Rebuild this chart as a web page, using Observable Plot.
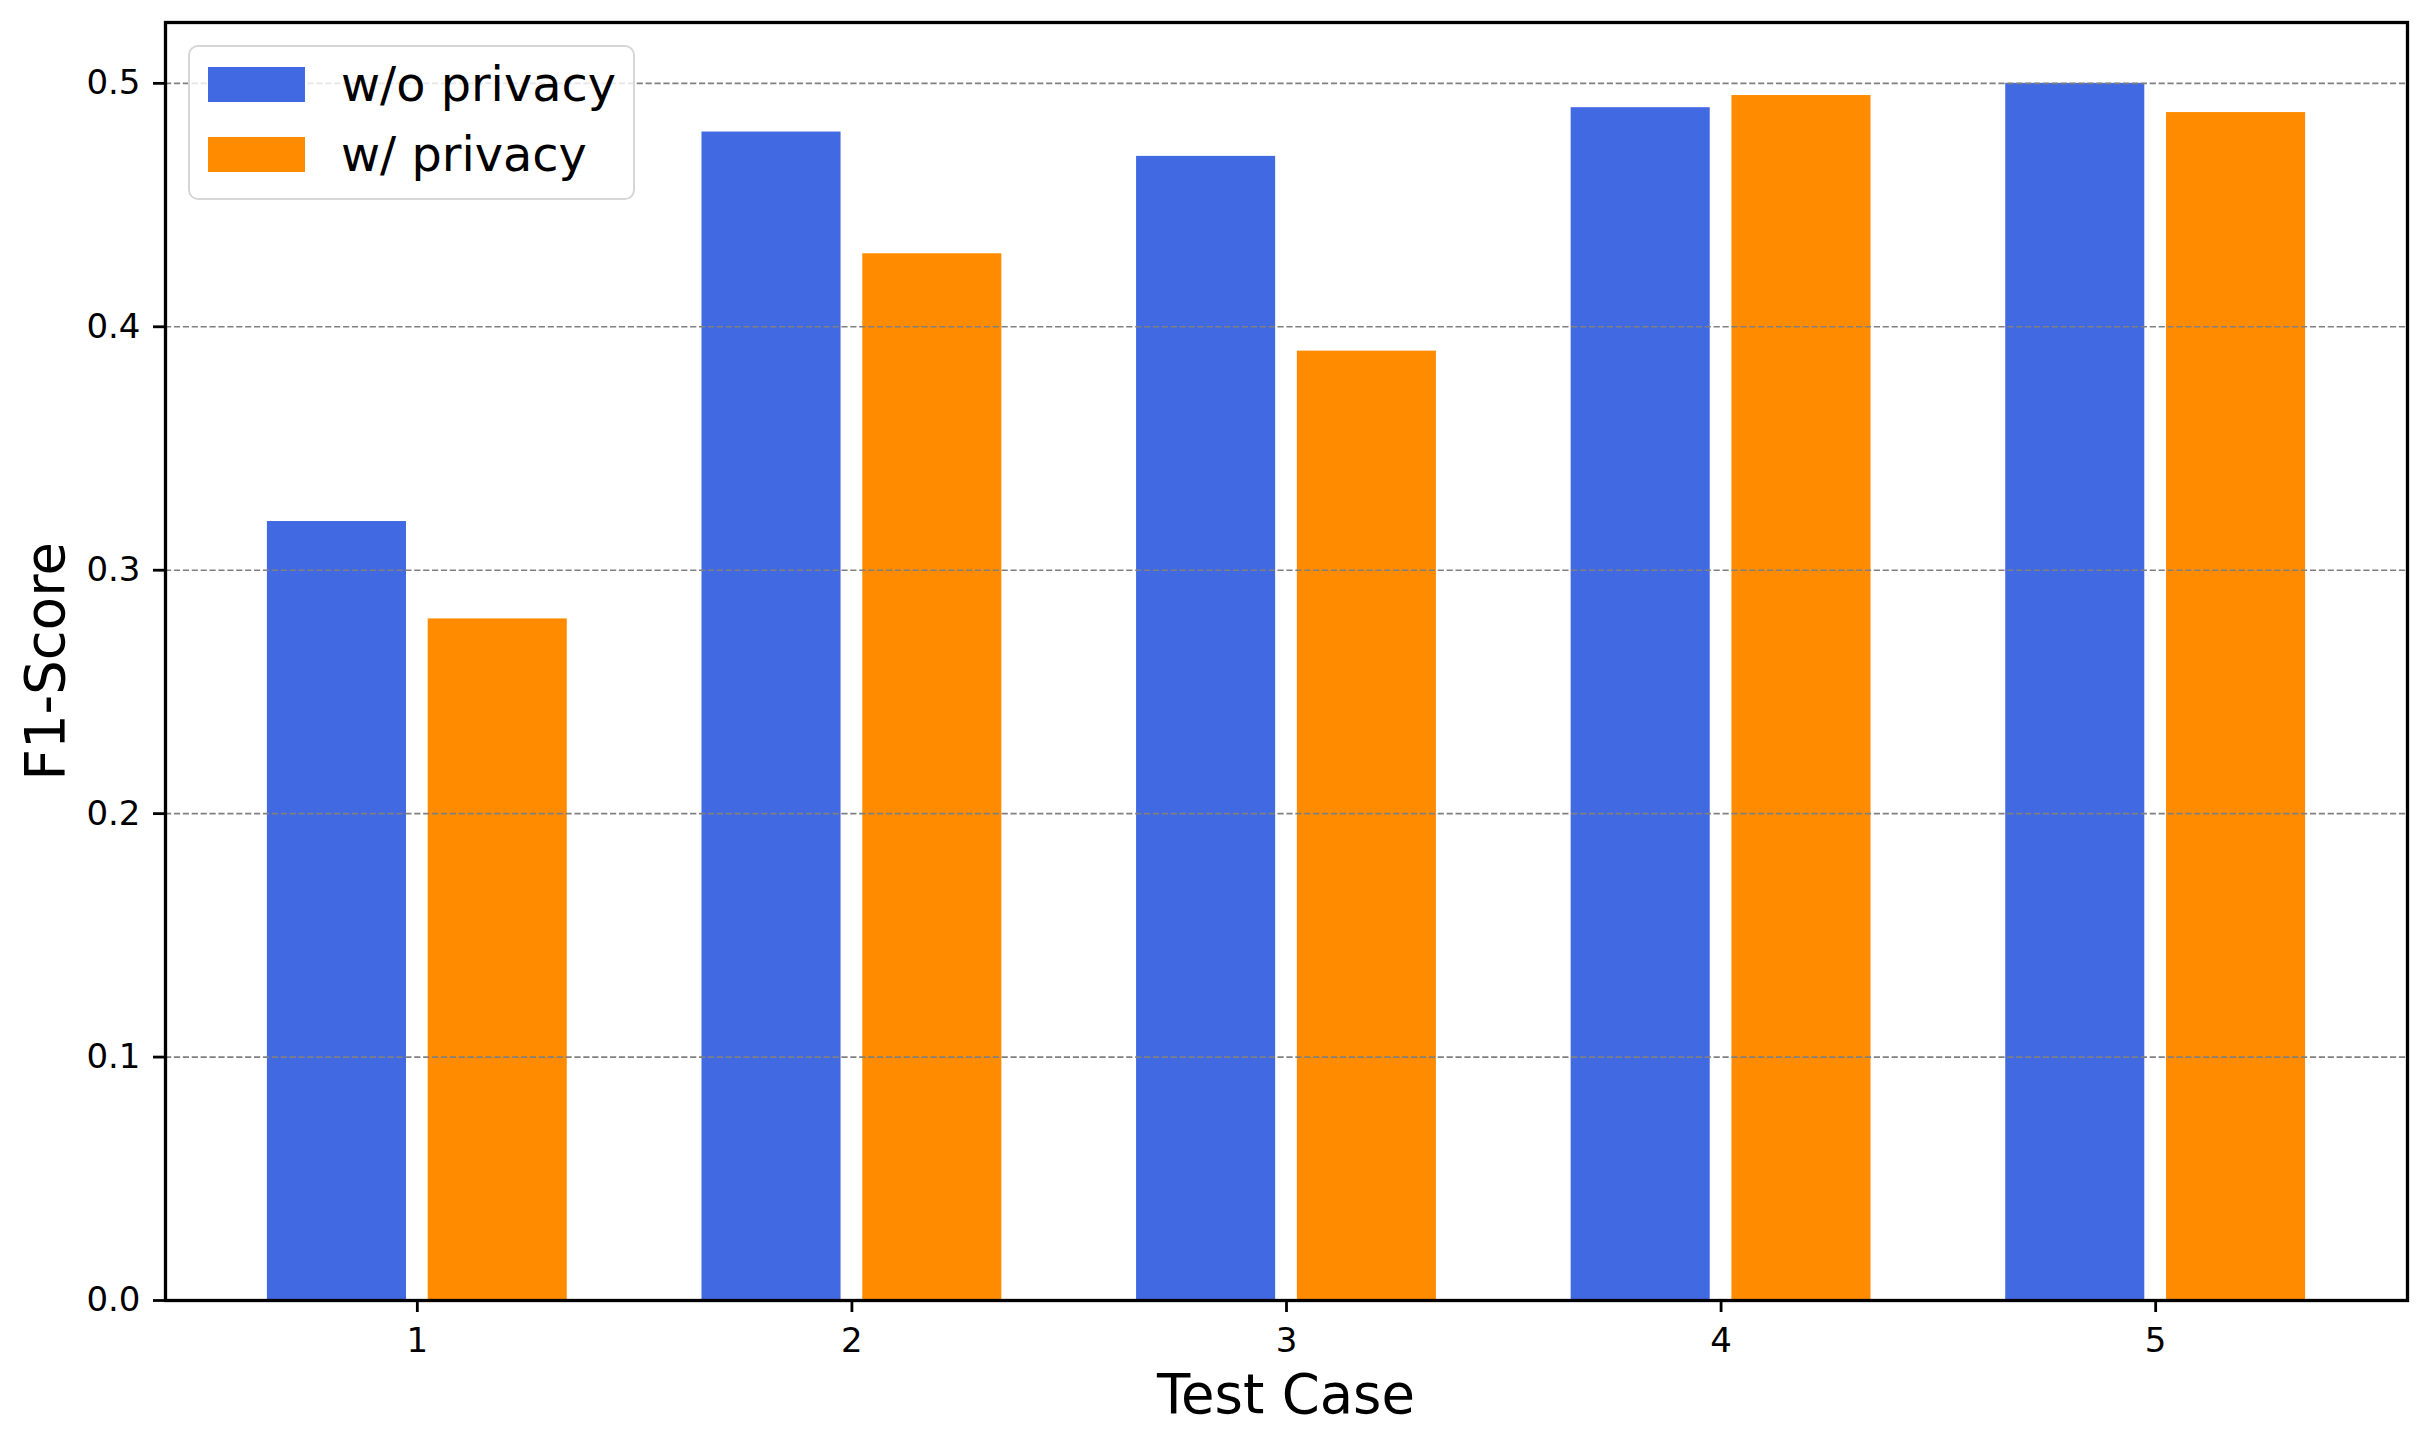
<!DOCTYPE html>
<html>
<head>
<meta charset="utf-8">
<script src="https://cdn.jsdelivr.net/npm/d3@7"></script>
<script src="https://cdn.jsdelivr.net/npm/@observablehq/plot@0.6"></script>
<style>
  html, body { margin: 0; padding: 0; background: white; }
  #wrap { position: relative; width: 2427px; height: 1441px; font-family: "DejaVu Sans", sans-serif; color: black; }
  #wrap svg { position: absolute; left: 0; top: 0; }
  .lbl { position: absolute; white-space: nowrap; font-family: "DejaVu Sans", sans-serif; color: black; }
  #legendBox { position: absolute; left: 188px; top: 45px; width: 447px; height: 155px; box-sizing: border-box;
    border: 2.7px solid #d6d6d6; border-radius: 10px; background: rgba(255,255,255,0.8); }
  .sw { position: absolute; left: 208px; width: 97px; height: 35px; }
  .lt { position: absolute; left: 341px; font-size: 47.8px; line-height: 60px; height: 60px; }
</style>
</head>
<body>
<div id="wrap"></div>
<script>
// ---- data ----
const cases = [1, 2, 3, 4, 5];
const seriesNames = ["w/o privacy", "w/ privacy"];
const seriesColors = ["#4169E1", "#FF8C00"];
const withoutPrivacy = [0.32, 0.48, 0.47, 0.49, 0.50];
const withPrivacy = [0.28, 0.43, 0.39, 0.495, 0.488];
const yTicks = [0.0, 0.1, 0.2, 0.3, 0.4, 0.5];
const xLabel = "Test Case";
const yLabel = "F1-Score";

// ---- table ----
const seriesValues = [withoutPrivacy, withPrivacy];
const rows = [];
seriesNames.forEach((s, si) => {
  cases.forEach((c, ci) => rows.push({case: c, series: s, side: si === 0 ? -1 : 1, value: seriesValues[si][ci]}));
});

const BAR_W = 0.32, OFFSET = 0.185;
const lo = d3.min(cases) - OFFSET - BAR_W / 2;
const hi = d3.max(cases) + OFFSET + BAR_W / 2;
const pad = (hi - lo) * 0.05;
const yMax = d3.max(rows, d => d.value) * 1.05;

const W = 2427, H = 1441;
const chart = Plot.plot({
  width: W,
  height: H,
  marginLeft: 165,
  marginRight: 20,
  marginTop: 22,
  marginBottom: 141,
  style: {fontFamily: "DejaVu Sans", background: "white", color: "black", overflow: "visible"},
  x: {type: "linear", domain: [lo - pad, hi + pad]},
  y: {domain: [0, yMax]},
  color: {domain: seriesNames, range: seriesColors},
  marks: [
    Plot.rect(rows, {
      x1: d => d.case + d.side * OFFSET - BAR_W / 2,
      x2: d => d.case + d.side * OFFSET + BAR_W / 2,
      y1: 0,
      y2: "value",
      fill: "series"
    }),
    Plot.gridY(yTicks, {stroke: "#808080", strokeOpacity: 1, strokeWidth: 1.67, strokeDasharray: "6.2,2.7"}),
    Plot.frame({stroke: "black", strokeWidth: 3.3}),
    Plot.axisY(yTicks, {tickFormat: d3.format(".1f"), tickSize: 12, tickPadding: 13, fontSize: 34, strokeWidth: 2.8, label: null, fill: "black"}),
    Plot.axisX(cases, {tickFormat: d => String(d), tickSize: 12, tickPadding: 15, fontSize: 34, strokeWidth: 2.8, label: null, fill: "black"})
  ]
});

const wrap = document.getElementById("wrap");
wrap.appendChild(chart);

// axis labels
const xl = document.createElement("div");
xl.className = "lbl";
xl.textContent = xLabel;
Object.assign(xl.style, {left: "986px", width: "600px", textAlign: "center", top: "1367px", fontSize: "54.5px", lineHeight: "54.5px"});
wrap.appendChild(xl);

const yl = document.createElement("div");
yl.className = "lbl";
yl.textContent = yLabel;
Object.assign(yl.style, {left: "-255.5px", top: "634px", width: "600px", height: "54.5px", textAlign: "center",
  fontSize: "54.5px", lineHeight: "54.5px", transform: "rotate(-90deg)", transformOrigin: "50% 50%"});
wrap.appendChild(yl);

// legend
const box = document.createElement("div");
box.id = "legendBox";
wrap.appendChild(box);
const swTops = [67, 137];
const txtTops = [55.2, 125.2];
seriesNames.forEach((s, i) => {
  const sw = document.createElement("div");
  sw.className = "sw";
  sw.style.top = swTops[i] + "px";
  sw.style.background = seriesColors[i];
  wrap.appendChild(sw);
  const t = document.createElement("div");
  t.className = "lbl lt";
  t.style.top = txtTops[i] + "px";
  t.textContent = s;
  wrap.appendChild(t);
});
</script>
</body>
</html>
